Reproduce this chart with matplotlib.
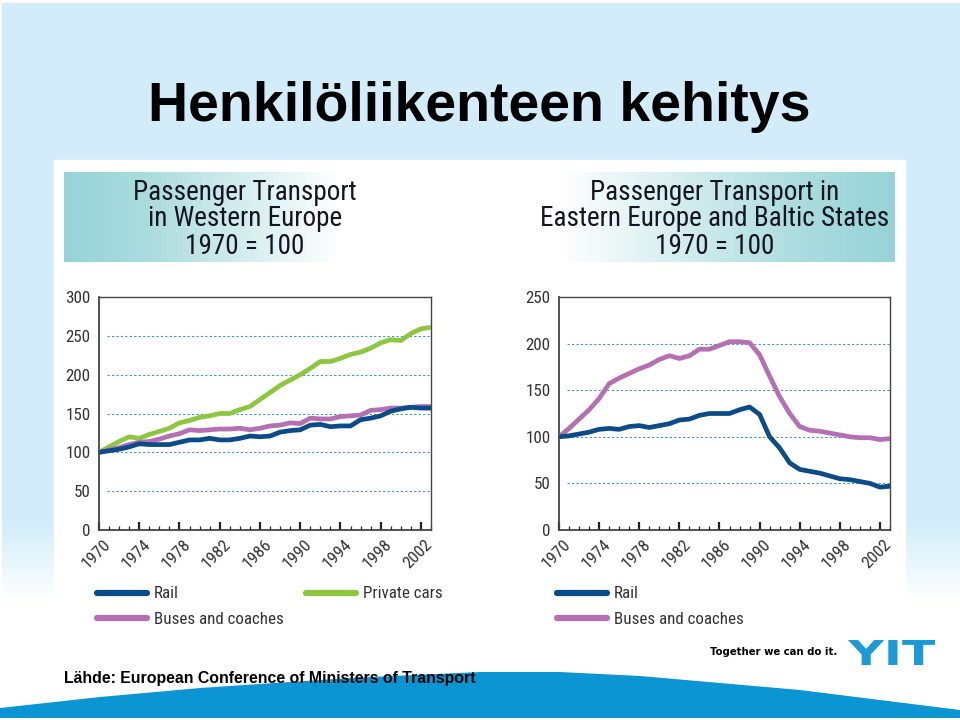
import numpy as np
import matplotlib.pyplot as plt
from matplotlib import font_manager as fm
from matplotlib.lines import Line2D
from matplotlib.patches import Rectangle, PathPatch
from matplotlib.textpath import TextPath
from matplotlib.font_manager import FontProperties
from matplotlib.transforms import Affine2D, ScaledTranslation

years = list(range(1970, 2004))
west_rail = [100, 102, 104, 107, 111, 110, 110, 110, 113, 116, 116, 118, 116, 116, 118, 121, 120,
             121, 126, 128, 129, 135, 136, 133, 134, 134, 142, 144, 147, 153, 156, 158, 157, 157]
west_buses = [100, 103, 106, 110, 113, 114, 117, 121, 124, 129, 128, 129, 130, 130, 131, 129, 131,
              134, 135, 138, 137, 144, 143, 143, 146, 147, 148, 154, 155, 157, 157, 158, 159, 159]
west_cars = [100, 107, 114, 120, 118, 123, 127, 131, 138, 141, 145, 147, 150, 150, 155, 159, 168,
             177, 186, 193, 200, 208, 217, 217, 221, 226, 229, 234, 241, 245, 244, 253, 259, 261]
east_rail = [100, 101, 103, 105, 108, 109, 108, 111, 112, 110, 112, 114, 118, 119, 123, 125, 125,
             125, 129, 132, 124, 100, 88, 72, 65, 63, 61, 58, 55, 54, 52, 50, 46, 47]
east_buses = [100, 109, 119, 129, 141, 157, 163, 168, 173, 177, 183, 187, 184, 187, 194, 194, 198,
              202, 202, 201, 188, 165, 143, 125, 111, 107, 106, 104, 102, 100, 99, 99, 97, 98]

west_title = "Passenger Transport\nin Western Europe\n1970 = 100"
east_title = "Passenger Transport in\nEastern Europe and Baltic States\n1970 = 100"

RAIL = '#0b4b88'
BUS = '#b470b2'
CAR = '#8dc63f'
BOLD = ['Liberation Sans', 'DejaVu Sans']


def narrow_font():
    fonts = fm.fontManager.ttflist
    for want in ['Liberation Sans Narrow', 'Roboto Condensed', 'Open Sans Condensed', 'Noto Sans Condensed']:
        for f in fonts:
            if f.name == want and f.style == 'normal' and f.weight in (400, 'normal', 'regular'):
                return f.fname
    for f in fonts:
        if f.name == 'DejaVu Sans' and f.stretch in ('condensed', 'semi-condensed') \
                and f.style == 'normal' and f.weight in (400, 'normal', 'regular'):
            return f.fname
    return fm.findfont(FontProperties(family='Lato'))


NARROW = narrow_font()


def nprop(size):
    return FontProperties(fname=NARROW, size=size)


fig = plt.figure(figsize=(9.6, 7.2), dpi=100)
renderer = fig.canvas.get_renderer()


def fit(t, target):
    t.set_fontsize(t.get_fontsize() * target / t.get_window_extent(renderer).width)
    return t.get_fontsize()


def px(l, t, r, b):
    return [l / 960, 1 - b / 720, (r - l) / 960, (b - t) / 720]


# slide background
bg = fig.add_axes([0, 0, 1, 1])
bg.set_zorder(-5)
col = np.ones((720, 1, 3))
yy = np.arange(720)
w = np.clip((600 - yy) / 75, 0, 1)
col[:, 0, :] = np.array([0.827, 0.933, 0.98]) * w[:, None] + (1 - w[:, None])
col[:3] = 1
bg.imshow(col, extent=(2, 960, 720, 0), aspect='auto', zorder=0)
bg.add_patch(Rectangle((54, 160), 851, 560, color='white', zorder=1))
xs = np.linspace(64, 895, 500)
wt = np.interp(xs, [64, 150, 340, 560, 800, 895], [1, 0.8, 0, 0, 0.8, 1])
band = np.array([0.59, 0.83, 0.84]) * wt[:, None] + (1 - wt[:, None])
bg.imshow(band[None, :, :], extent=(64, 895, 262, 172), aspect='auto', zorder=2)
sx = np.linspace(0, 960, 300)
sy = np.interp(sx, [0, 100, 200, 350, 480, 560, 640, 800, 960],
               [708, 697, 688, 678, 672, 672, 676, 690, 710])
bg.fill_between(sx, sy, 718, color='#0b96d3', lw=0, zorder=2)
tp = TextPath((0, 0), 'YIT', size=10, prop=FontProperties(family='DejaVu Sans', weight='bold'))
bb = tp.get_extents()
tr = Affine2D().translate(-bb.x0, -bb.y0).scale(87 / bb.width, -25 / bb.height).translate(848, 665)
bg.add_patch(PathPatch(tr.transform_path(tp), color='#1b9ad6', lw=0, zorder=3))
bg.set_xlim(0, 960)
bg.set_ylim(720, 0)
bg.axis('off')

t = fig.text(479 / 960, 1 - 121 / 720, 'Henkilöliikenteen kehitys', family=BOLD, weight='bold',
             fontsize=40, ha='center', va='baseline', color='black')
fit(t, 662)
h1 = fig.text(245 / 960, 1 - 219 / 720, west_title, fontproperties=nprop(18), ha='center',
              va='center', linespacing=1.0, color='#141422')
hs = fit(h1, 200) * 1.12
h1.set_fontsize(hs)
h2 = fig.text(715 / 960, 1 - 219 / 720, east_title, fontproperties=nprop(hs), ha='center',
              va='center', linespacing=1.0, color='#141422')
src = fig.text(64 / 960, 1 - 678 / 720, 'Lähde: European Conference of Ministers of Transport',
               family=BOLD, weight='bold', fontsize=11.5, va='center', color='black')
fit(src, 413)
logo = fig.text(710 / 960, 1 - 652 / 720, 'Together we can do it.', family=['DejaVu Sans'],
                weight='bold', fontsize=7, va='center', color='black')
fit(logo, 128)

probe = fig.text(0, 0, 'Buses and coaches', fontproperties=nprop(12))
fs = fit(probe, 113) * 1.14
probe.remove()
fs_px = fs * 100 / 72


def chart(rect, series, ymax):
    ax = fig.add_axes(px(*rect))
    ax.set_facecolor('none')
    for vals, c in series:
        ax.plot(years, vals, color=c, lw=3.4, solid_joinstyle='round', zorder=3)
    ax.set_xlim(1970, 2003)
    ax.set_ylim(0, ymax)
    for v in range(50, ymax, 50):
        ax.axhline(v, xmin=0.025, color='#3d9cb5', lw=0.8, ls=(0, (2, 2)), zorder=1)
    ax.set_yticks(range(0, ymax + 1, 50))
    ax.set_xticks(range(1970, 2003, 4))
    ax.set_xticks(range(1970, 2004), minor=True)
    ax.tick_params(axis='y', length=0, pad=6, labelcolor='#333333')
    ax.tick_params(axis='x', which='major', direction='in', length=5.5, width=1.6,
                   color='#222222', pad=0, labelcolor='#333333')
    ax.tick_params(axis='x', which='minor', direction='in', length=3, width=0.9, color='#222222')
    ax.set_xticklabels([str(y) for y in range(1970, 2003, 4)], rotation=45, ha='right',
                       va='center', rotation_mode='anchor')
    off = ScaledTranslation(9 / 100, -12 / 100, fig.dpi_scale_trans)
    for lab in ax.get_xticklabels():
        lab.set_fontproperties(nprop(fs))
        lab.set_transform(lab.get_transform() + off)
    for lab in ax.get_yticklabels():
        lab.set_fontproperties(nprop(fs))
    for s in ax.spines.values():
        s.set_color('#444444')
        s.set_linewidth(1.0)
    ax.spines['left'].set_linewidth(1.3)
    ax.spines['bottom'].set_linewidth(1.3)
    return ax


axw = chart((99, 297, 431, 530), [(west_cars, CAR), (west_buses, BUS), (west_rail, RAIL)], 300)
axe = chart((559, 297, 890, 530), [(east_buses, BUS), (east_rail, RAIL)], 250)


def handle(c):
    return Line2D([], [], color=c, lw=4.5, solid_capstyle='round')


def legend(ax, handles, labels, x, ncol=1, col2_text=None):
    # two rows, 25 px apart, first row centred at y = 594 px
    ls, top, colsp = 0.5, 583, 2.0
    for _ in range(3):
        leg = ax.legend(handles, labels, ncol=ncol, columnspacing=colsp, loc='upper left',
                        bbox_to_anchor=(x / 960, 1 - top / 720), bbox_transform=fig.transFigure,
                        frameon=False, borderpad=0, borderaxespad=0, handlelength=50 / fs_px,
                        handletextpad=7 / fs_px, labelspacing=ls, prop=nprop(fs),
                        labelcolor='#333333')
        fig.canvas.draw()
        tx = leg.get_texts()
        e0 = tx[0].get_window_extent(renderer)
        e1 = tx[1].get_window_extent(renderer)
        y0 = 720 - (e0.y0 + e0.y1) / 2
        y1 = 720 - (e1.y0 + e1.y1) / 2
        ls += (25 - (y1 - y0)) / fs_px
        top += 594 - y0
        if col2_text:
            colsp += (col2_text - tx[2].get_window_extent(renderer).x0) / fs_px
    return leg


legend(axw, [handle(RAIL), handle(BUS), handle(CAR)], ['Rail', 'Buses and coaches', 'Private cars'],
       97, ncol=2, col2_text=363)
legend(axe, [handle(RAIL), handle(BUS)], ['Rail', 'Buses and coaches'], 557)

fig.savefig('out.png', dpi=100)
